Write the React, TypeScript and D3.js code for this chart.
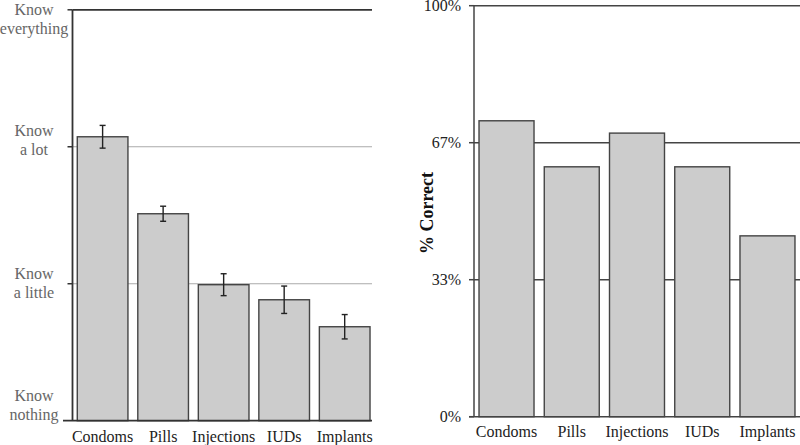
import React from "react";
import * as d3 from "d3";

const categories = ["Condoms", "Pills", "Injections", "IUDs", "Implants"];
const knowledgeMeans = [2.073, 1.511, 0.993, 0.883, 0.686];
const knowledgeErrors = [0.083, 0.055, 0.08, 0.1, 0.089];
const knowledgeTicks = [
  { v: 3, lines: ["Know", "everything"] },
  { v: 2, lines: ["Know", "a lot"] },
  { v: 1, lines: ["Know", "a little"] },
  { v: 0, lines: ["Know", "nothing"] },
];
const correctValues = [0.72, 0.608, 0.69, 0.608, 0.44];
const correctTicks = [0, 1 / 3, 2 / 3, 1];
const correctTickLabels = ["0%", "33%", "67%", "100%"];

const FONT = "Liberation Serif";
const labelDy = [9.5, -7, -1, -16];

export default function App() {
  // Left chart
  const lx = d3.scaleBand<string>().domain(categories).range([72.5, 374.8]).paddingInner(0.163).paddingOuter(0.079);
  const ly = d3.scaleLinear().domain([0, 3]).range([420.7, 9.8]);
  const lAxisX = 72.5;
  const lRight = 372;

  // Right chart
  const rx = d3.scaleBand<string>().domain(categories).range([474, 800]).paddingInner(0.157).paddingOuter(0.077);
  const ry = d3.scaleLinear().domain([0, 1]).range([416.7, 5.7]);
  const rAxisX = 474;

  const ts: React.CSSProperties = { fontFamily: FONT };

  return (
    <div style={{ position: "fixed", left: 0, top: 0 }}>
      <svg width={800} height={445} style={{ display: "block", background: "#fff", fontFamily: FONT }}>
        {/* LEFT CHART */}
        {[1, 2].map((v) => (
          <line key={v} x1={lAxisX} x2={lRight} y1={ly(v)} y2={ly(v)} stroke="#aaa" strokeWidth={1.2} />
        ))}
        <line x1={lAxisX} x2={lRight} y1={ly(3)} y2={ly(3)} stroke="#333" strokeWidth={1.8} />
        {categories.map((c, i) => (
          <rect key={c} x={lx(c)} y={ly(knowledgeMeans[i])} width={lx.bandwidth()} height={ly(0) - ly(knowledgeMeans[i])}
            fill="#cccccc" stroke="#444" strokeWidth={1.4} />
        ))}
        {categories.map((c, i) => {
          const cx = (lx(c) as number) + lx.bandwidth() / 2;
          const t = ly(knowledgeMeans[i] + knowledgeErrors[i]);
          const b = ly(knowledgeMeans[i] - knowledgeErrors[i]);
          return (
            <g key={c} stroke="#222" strokeWidth={1.4}>
              <line x1={cx} x2={cx} y1={t} y2={b} />
              <line x1={cx - 3} x2={cx + 3} y1={t} y2={t} />
              <line x1={cx - 3} x2={cx + 3} y1={b} y2={b} />
            </g>
          );
        })}
        <line x1={lAxisX} x2={lAxisX} y1={ly(3)} y2={ly(0)} stroke="#333" strokeWidth={1.8} />
        <line x1={63} x2={lRight} y1={ly(0)} y2={ly(0)} stroke="#333" strokeWidth={1.8} />
        {knowledgeTicks.map((t, i) => (
          <g key={t.v}>
            {t.v > 0 && <line x1={lAxisX - 5} x2={lAxisX} y1={ly(t.v)} y2={ly(t.v)} stroke="#333" strokeWidth={1.5} />}
            <text style={ts} x={34} y={ly(t.v) + labelDy[i]} textAnchor="middle" fontSize={16} fill="#666">
              <tspan x={34} dy={-4}>{t.lines[0]}</tspan>
              <tspan x={34} dy={19}>{t.lines[1]}</tspan>
            </text>
          </g>
        ))}
        {categories.map((c) => (
          <text style={ts} key={c} x={(lx(c) as number) + lx.bandwidth() / 2} y={442} textAnchor="middle" fontSize={16} fill="#222">{c}</text>
        ))}

        {/* RIGHT CHART */}
        {correctTicks.slice(1).map((v) => (
          <line key={v} x1={rAxisX} x2={800} y1={ry(v)} y2={ry(v)} stroke="#444" strokeWidth={1.5} />
        ))}
        {categories.map((c, i) => (
          <rect key={c} x={rx(c)} y={ry(correctValues[i])} width={rx.bandwidth()} height={ry(0) - ry(correctValues[i])}
            fill="#cccccc" stroke="#444" strokeWidth={1.4} />
        ))}
        <line x1={rAxisX} x2={rAxisX} y1={ry(1)} y2={ry(0)} stroke="#444" strokeWidth={1.5} />
        <line x1={469} x2={800} y1={ry(0)} y2={ry(0)} stroke="#444" strokeWidth={1.5} />
        {correctTicks.map((v, i) => (
          <g key={v}>
            <line x1={rAxisX - 5} x2={rAxisX} y1={ry(v)} y2={ry(v)} stroke="#444" strokeWidth={1.5} />
            <text style={ts} x={461} y={ry(v) + 5.5} textAnchor="end" fontSize={16} fill="#222">{correctTickLabels[i]}</text>
          </g>
        ))}
        <text style={ts} transform={`translate(433,${213}) rotate(-90)`} textAnchor="middle" fontSize={18} fontWeight="bold" fill="#111">% Correct</text>
        {categories.map((c) => (
          <text style={ts} key={c} x={(rx(c) as number) + rx.bandwidth() / 2} y={437} textAnchor="middle" fontSize={16} fill="#222">{c}</text>
        ))}
      </svg>
    </div>
  );
}
